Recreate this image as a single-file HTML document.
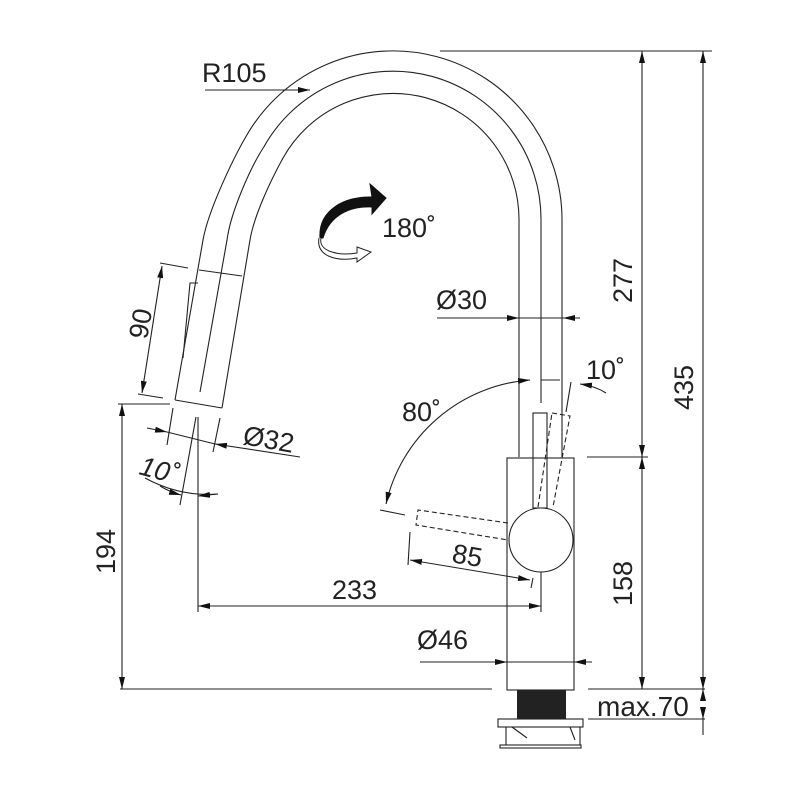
<!DOCTYPE html>
<html><head><meta charset="utf-8"><style>
html,body{margin:0;padding:0;background:#fff}
svg{display:block}
text{font-family:"Liberation Sans",sans-serif;fill:#222}
</style></head><body>
<svg width="800" height="800" viewBox="0 0 800 800" xmlns="http://www.w3.org/2000/svg">
<defs>
<marker id="a" viewBox="0 0 12 6" refX="12" refY="3" markerWidth="12" markerHeight="6" markerUnits="userSpaceOnUse" orient="auto-start-reverse"><path d="M0,0 L12,3 L0,6z" fill="#111"/></marker>
</defs>
<g fill="none" stroke="#222" stroke-width="1.1">
<path d="M562,457 L562,221 A169,169 0 0 0 246,136.5 C233.5,158 208.3,210 203,240 L175,400"/>
<path d="M541,403 L541,221 A148,148 0 0 0 263.8,147 C252,165 231,210 227,240 L200,392"/>
<path d="M519,457 L519,221 A126,126 0 0 0 283,158 C272,178 254,215 250,240 L222,408"/>
<path d="M175,400 L222,408"/>
<path d="M199,270 L242,276"/>
<path d="M183,358 L190,283 L198,283"/>
<path d="M173,408 L167,445 M220,418 L213,452 M196,417 L180,505 M198,417 L198,612"/>
<path d="M160,263 L188,268 M138,394 L163,398"/>
<path d="M162,266 L142,393" marker-start="url(#a)" marker-end="url(#a)"/>
<path d="M118,404 L170,404"/>
<path d="M122,404 L122,689" marker-start="url(#a)" marker-end="url(#a)"/>
<path d="M147,428 L167,432" marker-end="url(#a)"/>
<path d="M300,457 L215,444" marker-end="url(#a)"/>
<path d="M167,432 L215,444"/>
<path d="M145,478 Q180,497 218,494"/>
<path d="M160,486 Q170,492 181,495" marker-end="url(#a)"/>
<path d="M218,494 L198,496" marker-end="url(#a)"/>
<path d="M198,606 L541,606" marker-start="url(#a)" marker-end="url(#a)"/>
<path d="M541,560 L541,612"/>
<rect x="507" y="458" width="67" height="232"/>
<rect x="533" y="413" width="14" height="95"/>
<path d="M552,413 L570,416 L553,507 M538,507 L552,413" stroke-dasharray="5,3"/>
<path d="M508,523 L418,510 L416,525 L508,540" stroke-dasharray="5,3"/>
<circle cx="541" cy="540" r="32" fill="#fff"/>
<path d="M386,504 A160,160 0 0 1 530,380" marker-start="url(#a)" marker-end="url(#a)"/>
<path d="M606,393 Q595,386 580,384" marker-end="url(#a)"/>
<path d="M380,510 L405,515 M541,380 L560,380"/>
<path d="M566,412 L571,382"/>
<path d="M410,532 L408,565 M533,578 L531,588"/>
<path d="M410,560 L530,580" marker-start="url(#a)" marker-end="url(#a)"/>
<path d="M420,662 L507,662" marker-end="url(#a)"/>
<path d="M592,662 L574,662" marker-end="url(#a)"/>
<path d="M507,662 L574,662"/>
<path d="M437,318 L519,318" marker-end="url(#a)"/>
<path d="M580,318 L563,318" marker-end="url(#a)"/>
<path d="M519,318 L563,318"/>
<path d="M120,689 L492,689 M588,689 L705,689 M588,719 L705,719"/>
<path d="M440,51 L712,51 M587,457 L648,457"/>
<path d="M642,51 L642,457" marker-start="url(#a)" marker-end="url(#a)"/>
<path d="M642,457 L642,689" marker-start="url(#a)" marker-end="url(#a)"/>
<path d="M703,51 L703,689" marker-start="url(#a)" marker-end="url(#a)"/>
<path d="M703,700 L703,689" marker-end="url(#a)"/>
<path d="M703,708 L703,719" marker-end="url(#a)"/>
<path d="M703,719 L703,735"/>
<path d="M205,90 L310,90" marker-end="url(#a)"/>
<rect x="498" y="719" width="85" height="8"/>
<path d="M506,727 L506,745 M580,727 L580,745 M512,727 L527,738 M570,727 L575,740"/>
<rect x="500" y="745" width="81" height="3"/>
</g>
<rect x="517" y="690" width="49" height="29" fill="#222"/>
<path d="M320,238 C318,210 345,196 372,197 L370,184 L386,198 L372,214 L372,207 C350,206 330,215 323,238 Z" fill="#111" stroke="#111"/>
<path d="M321,238 C318,252 340,256 357,253 L357,247 L371,252 L357,262 L357,258 C336,262 316,256 319,238" fill="#fff" stroke="#222" stroke-width="1"/>
<g font-size="27">
<text x="202" y="82">R105</text>
<text x="382" y="237">180˚</text>
<text x="436" y="309">Ø30</text>
<text x="402" y="421">80˚</text>
<text x="586" y="379">10˚</text>
<text x="417" y="649">Ø46</text>
<text x="332" y="599">233</text>
<text x="597" y="716" font-size="28">max.70</text>
<text transform="translate(242,444) rotate(10)">Ø32</text>
<text transform="translate(451,562) rotate(10)">85</text>
<text transform="translate(138,474) rotate(15)" font-style="italic">10˚</text>
<text transform="translate(147,340) rotate(-80)">90</text>
<text transform="translate(115,574) rotate(-90)">194</text>
<text transform="translate(632,303) rotate(-90)">277</text>
<text transform="translate(632,606) rotate(-90)">158</text>
<text transform="translate(693,410) rotate(-90)">435</text>
</g>
</svg>
</body></html>
